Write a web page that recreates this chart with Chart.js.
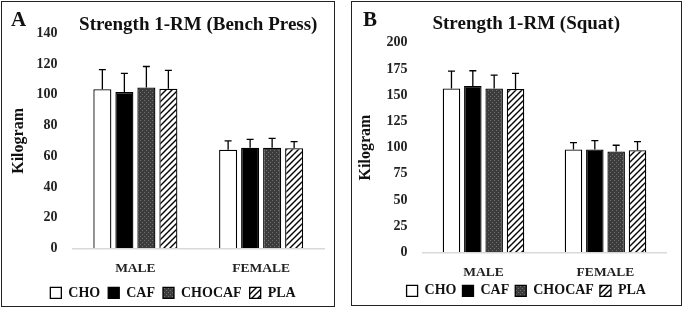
<!DOCTYPE html>
<html lang="en">
<head>
    <meta charset="UTF-8">
    <title>Strength 1-RM</title>
    <script src="https://cdn.jsdelivr.net/npm/chart.js"></script>
    <style>
        body {
            margin: 0;
            width: 685px;
            height: 309px;
            background: #fff;
            position: relative;
            overflow: hidden;
            font-family: "Liberation Serif", serif;
        }
        .panel {
            position: absolute;
            box-sizing: border-box;
            border: 1.5px solid #222;
        }
        #panelA { left: 1px; top: 1px; width: 334px; height: 306px; }
        #panelB { left: 351px; top: 1px; width: 331px; height: 305px; }
        .letter {
            position: absolute;
            font-weight: bold;
            font-size: 21px;
            color: #111;
            z-index: 2;
        }
        #panelA .letter { left: 9px; top: 5px; }
        #panelB .letter { left: 11px; top: 5px; }
        .box { position: absolute; left: 0; top: 0; right: 0; bottom: 0; }
    </style>
</head>
<body>
    <div class="panel" id="panelA">
        <span class="letter">A</span>
        <div class="box"><canvas id="benchChart"></canvas></div>
    </div>
    <div class="panel" id="panelB">
        <span class="letter">B</span>
        <div class="box"><canvas id="squatChart"></canvas></div>
    </div>

    <script>
        const categories = ['MALE', 'FEMALE'];
        const groups = ['CHO', 'CAF', 'CHOCAF', 'PLA'];

        // bench press (kg), one row per group: [male, female]
        const benchMeans = [[103.7, 64.3], [101.8, 65.6], [104.8, 65.6], [104.0, 65.2]];
        const benchSD = [[12.8, 5.7], [12.2, 5.4], [13.7, 6.1], [12.0, 4.3]];

        // squat (kg)
        const squatMeans = [[156.3, 98.1], [158.8, 98.1], [156.3, 96.2], [156.0, 97.5]];
        const squatSD = [[16.6, 6.6], [14.5, 8.5], [12.9, 6.0], [14.8, 8.2]];

        const fontFamily = '"Liberation Serif", serif';

        function dotPattern() {
            const c = document.createElement('canvas');
            c.width = 4; c.height = 4;
            const g = c.getContext('2d');
            g.fillStyle = '#3c3c3c';
            g.fillRect(0, 0, 4, 4);
            g.fillStyle = '#707070';
            g.fillRect(0, 0, 1, 1);
            g.fillRect(2, 2, 1, 1);
            return g.createPattern(c, 'repeat');
        }

        function hatchPattern() {
            const c = document.createElement('canvas');
            c.width = 6; c.height = 6;
            const g = c.getContext('2d');
            g.fillStyle = '#fff';
            g.fillRect(0, 0, 6, 6);
            g.strokeStyle = '#000';
            g.lineWidth = 1.4;
            g.beginPath();
            g.moveTo(0, 6); g.lineTo(6, 0);
            g.moveTo(-1, 1); g.lineTo(1, -1);
            g.moveTo(5, 7); g.lineTo(7, 5);
            g.stroke();
            return g.createPattern(c, 'repeat');
        }

        const fills = ['#ffffff', '#000000', dotPattern(), hatchPattern()];

        // upper SD whisker with a small cap
        const errorBars = {
            id: 'errorBars',
            afterDatasetsDraw(chart) {
                const ctx = chart.ctx;
                const yScale = chart.scales.y;
                chart.data.datasets.forEach((ds, i) => {
                    const meta = chart.getDatasetMeta(i);
                    meta.data.forEach((bar, j) => {
                        const top = yScale.getPixelForValue(ds.data[j] + ds.sd[j]);
                        ctx.save();
                        ctx.strokeStyle = '#000';
                        ctx.lineWidth = 1.3;
                        ctx.beginPath();
                        ctx.moveTo(bar.x, bar.y);
                        ctx.lineTo(bar.x, top);
                        ctx.moveTo(bar.x - 3.5, top);
                        ctx.lineTo(bar.x + 3.5, top);
                        ctx.stroke();
                        ctx.restore();
                    });
                });
            }
        };

        function makeChart(id, title, means, sds, yMax, step, lay) {
            const ctx = document.getElementById(id).getContext('2d');
            return new Chart(ctx, {
                type: 'bar',
                data: {
                    labels: categories,
                    datasets: groups.map((name, i) => ({
                        label: name,
                        data: means[i],
                        sd: sds[i],
                        backgroundColor: fills[i],
                        borderColor: '#000',
                        borderWidth: 1.3,
                        categoryPercentage: 0.7,
                        barPercentage: 0.82
                    }))
                },
                options: {
                    responsive: true,
                    maintainAspectRatio: false,
                    animation: false,
                    layout: { padding: lay.padding },
                    scales: {
                        x: {
                            grid: { display: false, drawTicks: true, tickLength: lay.xTick },
                            border: { color: '#d9d9d9', width: 1.5 },
                            ticks: {
                                color: '#222',
                                padding: 0,
                                font: { family: fontFamily, size: 13.5, weight: 'bold', lineHeight: lay.xLine }
                            }
                        },
                        y: {
                            min: 0,
                            max: yMax,
                            grid: { display: false, drawTicks: false },
                            border: { display: false },
                            ticks: {
                                stepSize: step,
                                color: '#222',
                                padding: 15,
                                font: { family: fontFamily, size: 14, weight: 'bold' }
                            },
                            title: {
                                display: true,
                                text: 'Kilogram',
                                color: '#111',
                                padding: lay.yTitlePad,
                                font: { family: fontFamily, size: 16, weight: 'bold', lineHeight: 1 }
                            }
                        }
                    },
                    plugins: {
                        title: {
                            display: true,
                            text: title,
                            fullSize: lay.titleFull,
                            color: '#111',
                            padding: lay.titlePad,
                            font: { family: fontFamily, size: 19, weight: 'bold', lineHeight: 1 }
                        },
                        legend: {
                            position: 'bottom',
                            labels: {
                                color: '#111',
                                boxWidth: 11,
                                boxHeight: 11,
                                padding: lay.legendPad,
                                font: { family: fontFamily, size: 14, weight: 'bold' }
                            }
                        },
                        tooltip: { enabled: false }
                    }
                },
                plugins: [errorBars]
            });
        }

        makeChart('benchChart', 'Strength 1-RM (Bench Press)', benchMeans, benchSD, 140, 20, {
            padding: { left: 20, right: 10, top: 0, bottom: -3.9 },
            yTitlePad: { top: -11, bottom: -5.5 },
            titlePad: { top: 14, bottom: -1.5 },
            titleFull: false,
            xTick: 10,
            xLine: 1.45,
            legendPad: 8
        });
        makeChart('squatChart', 'Strength 1-RM (Squat)', squatMeans, squatSD, 200, 25, {
            padding: { left: 34, right: 14.5, top: 0, bottom: -2.8 },
            yTitlePad: { top: -28, bottom: -2.5 },
            titlePad: { top: 13, bottom: 8.8 },
            titleFull: true,
            xTick: 15,
            xLine: 0.78,
            legendPad: 6
        });
    </script>
</body>
</html>
